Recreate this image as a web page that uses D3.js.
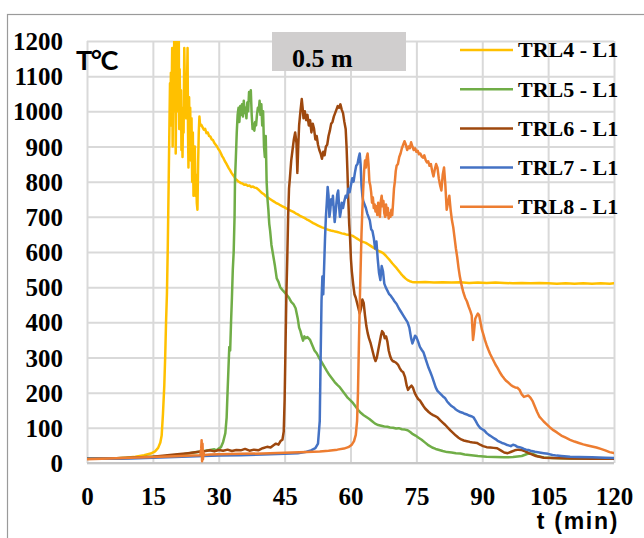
<!DOCTYPE html>
<html>
<head>
<meta charset="utf-8">
<script src="https://cdn.jsdelivr.net/npm/d3@7"></script>
<style>
  body { margin: 0; background: #fff; }
  svg { display: block; }
</style>
</head>
<body>
<svg id="chart" width="644" height="538"></svg>
<script>
// Legend labels and line colours, one per thermocouple
const seriesNames = ["TRL4 - L1", "TRL5 - L1", "TRL6 - L1", "TRL7 - L1", "TRL8 - L1"];
const seriesColors = ["#FFC000", "#70AD47", "#9E480E", "#4472C4", "#ED7D31"];

// Axis ticks
const xTicks = [0, 15, 30, 45, 60, 75, 90, 105, 120];
const yTicks = [0, 100, 200, 300, 400, 500, 600, 700, 800, 900, 1000, 1100, 1200];

// Temperature records: [time (min), temperature (°C)]
const trl4 = [
  [0,12],[3,12],[6,13],[9,15],[11,18],[13,22],[14.5,27],[15.5,33],[16.2,43],[16.7,58],[17.0,78],
  [17.3,140],[17.6,220],[17.8,300],[18.0,400],[18.2,480],[18.4,620],[18.6,800],[18.8,990],[18.9,1080],
  [19.0,960],[19.1,1110],[19.25,1020],[19.4,1180],[19.5,900],[19.6,1050],[19.7,1000],[19.8,1150],
  [19.9,1230],[20.0,1040],[20.1,1250],[20.2,880],[20.35,1100],[20.5,1000],[20.6,1240],[20.75,1050],
  [20.9,1220],[21.0,950],[21.1,1120],[21.25,980],[21.4,1060],[21.5,890],[21.6,1000],[21.75,870],
  [21.9,1010],[22.0,940],[22.15,1180],[22.3,1060],[22.45,1100],[22.6,980],[22.75,1060],[22.9,1180],
  [23.0,950],[23.1,840],[23.25,1040],[23.4,900],[23.5,1010],[23.65,860],[23.8,980],[23.95,800],
  [24.1,940],[24.25,760],[24.4,840],[24.55,900],[24.7,760],[24.85,820],[25.0,740],[25.15,720],
  [25.3,850],[25.45,940],[25.6,985],[25.75,960],[26.0,962],[26.3,955],[26.6,948],[26.9,950],
  [27.2,938],[27.5,940],[27.8,930],[28.1,928],[28.4,920],[28.7,918],[29.0,910],[29.3,905],[29.6,900],
  [29.9,893],[30.2,888],[30.5,880],[30.8,872],[31.1,866],[31.4,858],[31.7,852],[32.0,845],[32.3,838],
  [32.6,832],[32.9,825],[33.2,820],[33.5,815],[33.8,808],[34.1,805],[34.4,801],[34.7,799],[35.0,796],
  [35.4,795],[35.8,791],[36.2,792],[36.6,788],[37.0,789],[37.4,785],[37.8,786],[38.2,783],[38.6,782],
  [39.0,778],[39.4,773],[39.8,768],[40.2,765],[40.6,760],[41.0,756],[41.5,752],[42.0,748],[42.5,744],
  [43.0,740],[43.5,737],[44.0,733],[44.5,730],[45.0,727],[45.5,723],[46.0,720],[46.5,717],[47.0,714],
  [47.5,710],[48.0,707],[48.5,703],[49.0,700],[49.5,697],[50.0,693],[50.5,690],[51.0,686],[51.5,682],
  [52.0,679],[52.5,676],[53.0,673],[53.5,670],[54.0,668],[54.5,665],[55.0,663],[55.5,661],[56.0,660],
  [56.5,658],[57.0,657],[57.5,655],[58.0,653],[58.5,652],[59.0,650],[59.5,649],[60.0,648],[60.5,646],
  [61.0,642],[61.5,638],[62.0,634],[62.5,630],[63.0,628],[63.5,626],[64.0,622],[64.5,618],[65.0,614],
  [65.5,610],[66.0,606],[66.5,602],[67.0,600],[67.5,596],[68.0,590],[68.5,583],[69.0,576],[69.5,568],
  [70.0,561],[70.5,554],[71.0,546],[71.5,538],[72.0,531],[72.5,525],[73.0,520],[73.5,517],[74.0,515],
  [74.5,514],[75.5,514],[77,515],[79,513],[81,514],[83,513],[85,514],[87,512],[89,513],[91,512],
  [93,513],[95,512],[97,511],[99,512],[101,511],[103,512],[105,511],[107,510],[109,511],[111,510],
  [113,511],[115,510],[117,511],[119,510],[120,511]
];

const trl5 = [
  [0,12],[5,13],[10,15],[15,18],[18,20],[20,22],[22,25],[24,29],[26,33],[27,35],[28,37],[29,39],
  [29.5,36],[30,41],[30.5,45],[31,60],[31.5,85],[31.8,130],[32.0,200],[32.2,265],[32.4,330],[32.6,320],
  [32.8,400],[33.0,470],[33.2,550],[33.4,600],[33.6,700],[33.7,805],[33.9,870],[34.1,940],[34.3,990],
  [34.5,1010],[34.7,970],[34.9,1015],[35.1,990],[35.3,1020],[35.5,985],[35.7,1030],[35.9,995],
  [36.1,1010],[36.3,980],[36.5,1025],[36.7,1000],[36.9,1055],[37.1,1030],[37.3,1060],[37.5,990],
  [37.7,950],[37.9,965],[38.1,945],[38.3,970],[38.5,960],[38.7,990],[38.9,1010],[39.1,1000],
  [39.3,1030],[39.5,990],[39.7,1020],[39.9,960],[40.1,1000],[40.3,900],[40.5,870],[40.7,930],
  [40.9,800],[41.1,750],[41.3,720],[41.5,680],[41.7,660],[42,620],[42.4,590],[42.8,560],[43.2,525],
  [43.6,515],[44,500],[44.5,492],[45,485],[45.5,478],[46,470],[46.5,458],[47,452],[47.5,440],[48,410],
  [48.3,385],[48.6,375],[48.9,360],[49.2,348],[49.5,360],[49.8,355],[50.2,358],[50.8,350],[51.3,335],
  [51.8,320],[52.3,312],[52.8,300],[53.3,290],[54,275],[54.6,262],[55.2,250],[55.8,240],[56.4,230],
  [57,222],[57.6,215],[58.2,205],[58.8,195],[59.4,185],[60,178],[60.6,170],[61.2,160],[61.8,150],
  [62.4,142],[63,136],[63.7,130],[64.3,125],[65,118],[65.6,112],[66.3,108],[67,106],[67.7,104],
  [68.4,103],[69,101],[69.7,100],[70.4,98],[71,99],[71.7,96],[72.4,95],[73,93],[73.6,88],[74.2,82],
  [74.8,78],[75.5,72],[76.2,66],[77,58],[77.8,50],[78.6,44],[79.4,40],[80.2,37],[81,34],[82,31],
  [83,30],[84,28],[85,27],[86,24],[87.5,22],[89,20],[91,18],[93,17],[95,16],[97,17],[99,20],
  [100.5,27],[101.5,26],[102.5,20],[104,16],[106,14],[110,13],[115,13],[120,12]
];

const trl6 = [
  [0,12],[5,13],[10,15],[15,18],[20,24],[23,28],[25,31],[27,34],[28,36],[29,33],[30,37],[31,35],
  [32,38],[33,34],[34,37],[35,36],[36,40],[37,35],[38,38],[39,36],[40,42],[41,46],[41.8,44],[42.4,50],
  [43,55],[43.6,52],[44.1,63],[44.5,66],[44.8,90],[45.0,180],[45.2,330],[45.4,480],[45.6,580],
  [45.8,700],[46.0,780],[46.2,810],[46.5,860],[46.8,890],[47.1,920],[47.4,940],[47.7,910],[47.9,825],
  [48.1,900],[48.3,960],[48.6,1000],[48.9,1035],[49.1,1010],[49.3,980],[49.6,1000],[49.9,975],
  [50.2,990],[50.5,960],[50.8,975],[51.1,940],[51.4,965],[51.7,950],[52.0,920],[52.3,930],[52.6,905],
  [52.9,890],[53.2,880],[53.5,865],[53.8,885],[54.1,875],[54.4,900],[54.7,905],[55,930],[55.3,945],
  [55.6,965],[55.9,970],[56.2,985],[56.5,995],[56.8,1005],[57.1,1015],[57.4,1010],[57.7,1020],
  [58.0,1005],[58.3,995],[58.6,970],[58.9,950],[59.1,900],[59.3,830],[59.5,750],[59.7,680],[59.9,640],
  [60.1,580],[60.3,545],[60.6,510],[60.9,480],[61.2,470],[61.5,455],[61.8,440],[62.1,425],[62.4,440],
  [62.7,465],[63.0,455],[63.3,420],[63.6,390],[63.9,370],[64.2,355],[64.6,340],[65,320],[65.4,300],
  [65.7,290],[66.0,300],[66.3,320],[66.6,340],[66.9,360],[67.2,375],[67.5,370],[67.8,355],[68.1,360],
  [68.4,345],[68.7,320],[69.0,305],[69.3,295],[69.6,290],[70,288],[70.4,285],[70.8,280],[71.2,270],
  [71.6,262],[72,258],[72.4,245],[72.8,220],[73.1,208],[73.5,215],[73.9,220],[74.2,215],[74.6,200],
  [75,190],[75.4,182],[75.8,178],[76.2,170],[76.6,162],[77,155],[77.4,150],[77.8,145],[78.3,140],
  [78.8,136],[79.3,133],[79.8,130],[80.4,122],[81,115],[81.6,108],[82.2,100],[82.8,92],[83.4,85],
  [84,78],[84.6,72],[85.2,67],[85.8,64],[86.5,62],[87.2,60],[88,58],[88.8,57],[89.5,52],[90.2,48],
  [91,45],[91.8,44],[92.6,43],[93.4,42],[94.2,36],[95,30],[95.8,28],[96.6,32],[97.4,36],[98.2,38],
  [99,37],[99.8,33],[100.6,28],[101.4,24],[102.2,20],[103,18],[104,15],[106,14],[110,13],[115,12],[120,12]
];

const trl7 = [
  [0,12],[5,12],[10,13],[15,15],[20,17],[25,19],[30,21],[35,22],[40,24],[45,26],[48,28],[50,32],
  [51,36],[52,42],[52.6,55],[53.0,120],[53.2,300],[53.4,460],[53.6,530],[53.8,480],[54.0,560],
  [54.2,640],[54.4,700],[54.6,740],[54.8,785],[55.0,760],[55.2,700],[55.4,720],[55.6,750],[55.8,735],
  [56.0,760],[56.2,720],[56.4,685],[56.6,710],[56.8,740],[57.0,765],[57.2,775],[57.4,730],[57.6,700],
  [57.8,715],[58.0,740],[58.3,725],[58.6,745],[58.9,760],[59.2,755],[59.5,780],[59.8,770],[60.1,790],
  [60.4,810],[60.7,800],[61.0,825],[61.3,845],[61.6,850],[61.9,870],[62.1,880],[62.3,850],[62.5,790],
  [62.7,760],[62.9,745],[63.2,735],[63.5,725],[63.8,710],[64.1,700],[64.4,690],[64.7,665],[65.0,660],
  [65.3,640],[65.6,610],[65.9,630],[66.2,580],[66.5,540],[66.8,520],[67.1,560],[67.4,545],[67.7,510],
  [68.0,500],[68.4,490],[68.8,480],[69.2,475],[69.6,468],[70,460],[70.5,452],[71,440],[71.5,430],
  [72,420],[72.5,410],[73,400],[73.4,385],[73.8,355],[74.1,340],[74.4,350],[74.7,362],[75.0,358],
  [75.4,345],[75.8,330],[76.2,322],[76.6,315],[77,300],[77.4,285],[77.8,270],[78.2,258],[78.6,245],
  [79,230],[79.4,215],[79.8,205],[80.2,200],[80.6,195],[81,190],[81.5,185],[82,175],[82.5,168],
  [83,162],[83.5,158],[84,152],[84.5,148],[85,145],[85.5,143],[86,140],[86.5,138],[87,135],[87.5,133],
  [88,130],[88.5,120],[89,108],[89.5,100],[90,96],[90.5,92],[91,85],[91.5,80],[92,76],[92.5,72],
  [93,68],[93.5,63],[94,60],[94.5,57],[95,55],[95.5,52],[96,50],[96.5,48],[97,52],[97.5,50],[98,46],
  [98.5,45],[99,43],[99.5,40],[100,38],[100.5,37],[101,35],[102,32],[103,30],[104,28],[105,26],
  [106,23],[107,21],[108,20],[110,18],[112,17],[115,16],[118,15],[120,14]
];

const trl8 = [
  [0,11],[5,13],[10,15],[15,17],[20,19],[24,21],[25.8,22],[26.0,40],[26.1,65],[26.2,5],[26.3,55],
  [26.4,10],[26.5,30],[26.7,23],[28,24],[30,25],[35,26],[40,27],[45,29],[50,31],[53,33],[55,35],
  [57,38],[58.5,41],[59.5,45],[60.3,52],[60.8,62],[61.2,80],[61.5,120],[61.7,200],[61.9,330],
  [62.1,450],[62.3,550],[62.5,650],[62.7,720],[62.9,780],[63.1,830],[63.3,860],[63.5,840],[63.7,870],
  [63.9,880],[64.1,850],[64.3,800],[64.5,790],[64.7,770],[64.9,740],[65.1,755],[65.3,725],[65.5,735],
  [65.7,715],[65.9,730],[66.1,705],[66.3,740],[66.5,720],[66.7,700],[66.9,745],[67.1,760],[67.3,730],
  [67.5,745],[67.7,710],[67.9,700],[68.1,735],[68.3,705],[68.5,725],[68.7,695],[68.9,710],[69.1,700],
  [69.3,720],[69.5,705],[69.7,740],[69.9,780],[70.1,800],[70.3,830],[70.5,845],[70.8,850],[71.1,870],
  [71.4,880],[71.7,895],[72.0,905],[72.3,915],[72.6,905],[72.9,890],[73.2,900],[73.5,895],[73.8,912],
  [74.1,900],[74.4,890],[74.7,895],[75.0,885],[75.3,888],[75.6,878],[75.9,880],[76.2,872],[76.5,868],
  [76.8,875],[77.1,862],[77.4,855],[77.7,858],[78.0,845],[78.3,850],[78.6,830],[78.9,815],[79.2,835],
  [79.5,850],[79.8,840],[80.1,810],[80.4,790],[80.7,775],[81.0,820],[81.3,840],[81.6,790],[81.9,720],
  [82.2,740],[82.5,760],[82.8,720],[83.1,690],[83.4,670],[83.7,640],[84.0,610],[84.3,585],[84.6,555],
  [84.9,530],[85.3,505],[85.7,485],[86.1,470],[86.5,460],[86.9,445],[87.3,432],[87.6,420],[87.9,350],
  [88.1,370],[88.4,410],[88.7,418],[89.0,425],[89.3,420],[89.6,400],[89.9,380],[90.2,368],[90.6,350],
  [91.0,335],[91.4,322],[91.8,310],[92.2,300],[92.6,290],[93,280],[93.5,270],[94,258],[94.5,248],
  [95,240],[95.5,233],[96,228],[96.5,222],[97,218],[97.5,215],[98,214],[98.5,208],[99,195],[99.5,188],
  [100,190],[100.5,192],[101,185],[101.5,175],[102,160],[102.5,145],[103,132],[103.5,125],[104,118],
  [104.5,112],[105,106],[105.5,100],[106,95],[107,87],[108,78],[109,72],[110,66],[111,61],[112,57],
  [113,53],[114,50],[115,47],[116,44],[117,40],[118,36],[119,31],[120,28]
];

const seriesData = [trl4, trl5, trl6, trl7, trl8];

const svg = d3.select("#chart");
const plot = { left: 87, right: 614, top: 41, bottom: 463 };

const x = d3.scaleLinear().domain([0, 120]).range([plot.left, plot.right]);
const y = d3.scaleLinear().domain([0, 1200]).range([plot.bottom, plot.top]);

const serif = "'Liberation Serif', 'Times New Roman', serif";
const sans = "Lato, 'Open Sans', sans-serif";

// Background and outer frame
svg.append("rect").attr("width", 644).attr("height", 538).attr("fill", "#fff");
svg.append("rect")
  .attr("x", 7.5).attr("y", 14.5).attr("width", 700).attr("height", 600)
  .attr("fill", "none").attr("stroke", "#9a9a9a").attr("stroke-width", 1.2);

// Grid + tick labels via d3 axes
const gridColor = "#d9d9d9";

const yAxis = d3.axisLeft(y).tickValues(yTicks).tickFormat(d3.format("d"))
  .tickSize(-(plot.right - plot.left)).tickPadding(24);
const gy = svg.append("g").attr("transform", `translate(${plot.left},0)`).call(yAxis);
gy.select(".domain").remove();
gy.selectAll(".tick line").attr("stroke", gridColor).attr("stroke-width", 2);
gy.selectAll(".tick text")
  .attr("font-family", serif).attr("font-weight", "bold").attr("font-size", 25)
  .attr("fill", "#000").attr("dy", "0.34em");

const xAxis = d3.axisBottom(x).tickValues(xTicks).tickFormat(d3.format("d"))
  .tickSize(-(plot.bottom - plot.top)).tickPadding(0);
const gx = svg.append("g").attr("transform", `translate(0,${plot.bottom})`).call(xAxis);
gx.select(".domain").remove();
gx.selectAll(".tick line").attr("stroke", gridColor).attr("stroke-width", 2);
gx.selectAll(".tick text")
  .attr("font-family", serif).attr("font-weight", "bold").attr("font-size", 25)
  .attr("fill", "#000").attr("y", 33).attr("dy", "0.34em");

// Base axis line
svg.append("line")
  .attr("x1", plot.left).attr("x2", plot.right)
  .attr("y1", plot.bottom).attr("y2", plot.bottom)
  .attr("stroke", "#c6c6c6").attr("stroke-width", 2);

// Location label box
svg.append("rect")
  .attr("x", 272).attr("y", 32).attr("width", 134).attr("height", 39)
  .attr("fill", "#d0cece");
svg.append("text")
  .attr("x", 292).attr("y", 67)
  .attr("font-family", serif).attr("font-weight", "bold").attr("font-size", 26)
  .attr("fill", "#000").text("0.5 m");

// Axis titles
svg.append("text")
  .attr("x", 76).attr("y", 70)
  .attr("font-family", sans).attr("font-weight", "bold").attr("font-size", 27)
  .attr("letter-spacing", -1.5)
  .attr("fill", "#000").text("T°C");
svg.append("text")
  .attr("x", 619).attr("y", 529).attr("text-anchor", "end")
  .attr("font-family", "'Liberation Sans', Arial, sans-serif").attr("font-weight", "bold")
  .attr("font-size", 23).attr("letter-spacing", 1.7)
  .attr("fill", "#000").text("t (min)");

// Temperature curves, clipped to the plotting area
svg.append("clipPath").attr("id", "plot-clip")
  .append("rect")
  .attr("x", plot.left).attr("y", plot.top)
  .attr("width", plot.right - plot.left).attr("height", plot.bottom - plot.top + 6);

const line = d3.line().x(d => x(d[0])).y(d => y(d[1]));

svg.append("g").attr("clip-path", "url(#plot-clip)")
  .selectAll("path")
  .data(seriesData)
  .join("path")
  .attr("d", line)
  .attr("fill", "none")
  .attr("stroke", (d, i) => seriesColors[i])
  .attr("stroke-width", 2.5)
  .attr("stroke-linejoin", "round")
  .attr("stroke-linecap", "round");

// Legend
const legend = svg.append("g");
const rows = legend.selectAll("g")
  .data(seriesNames)
  .join("g")
  .attr("transform", (d, i) => `translate(0,${50 + i * 39.2})`);
rows.append("line")
  .attr("x1", 460).attr("x2", 513)
  .attr("stroke", (d, i) => seriesColors[i]).attr("stroke-width", 2.5);
rows.append("text")
  .attr("x", 518).attr("dy", "0.34em")
  .attr("font-family", serif).attr("font-weight", "bold").attr("font-size", 22)
  .attr("fill", "#000").text(d => d);
</script>
</body>
</html>
